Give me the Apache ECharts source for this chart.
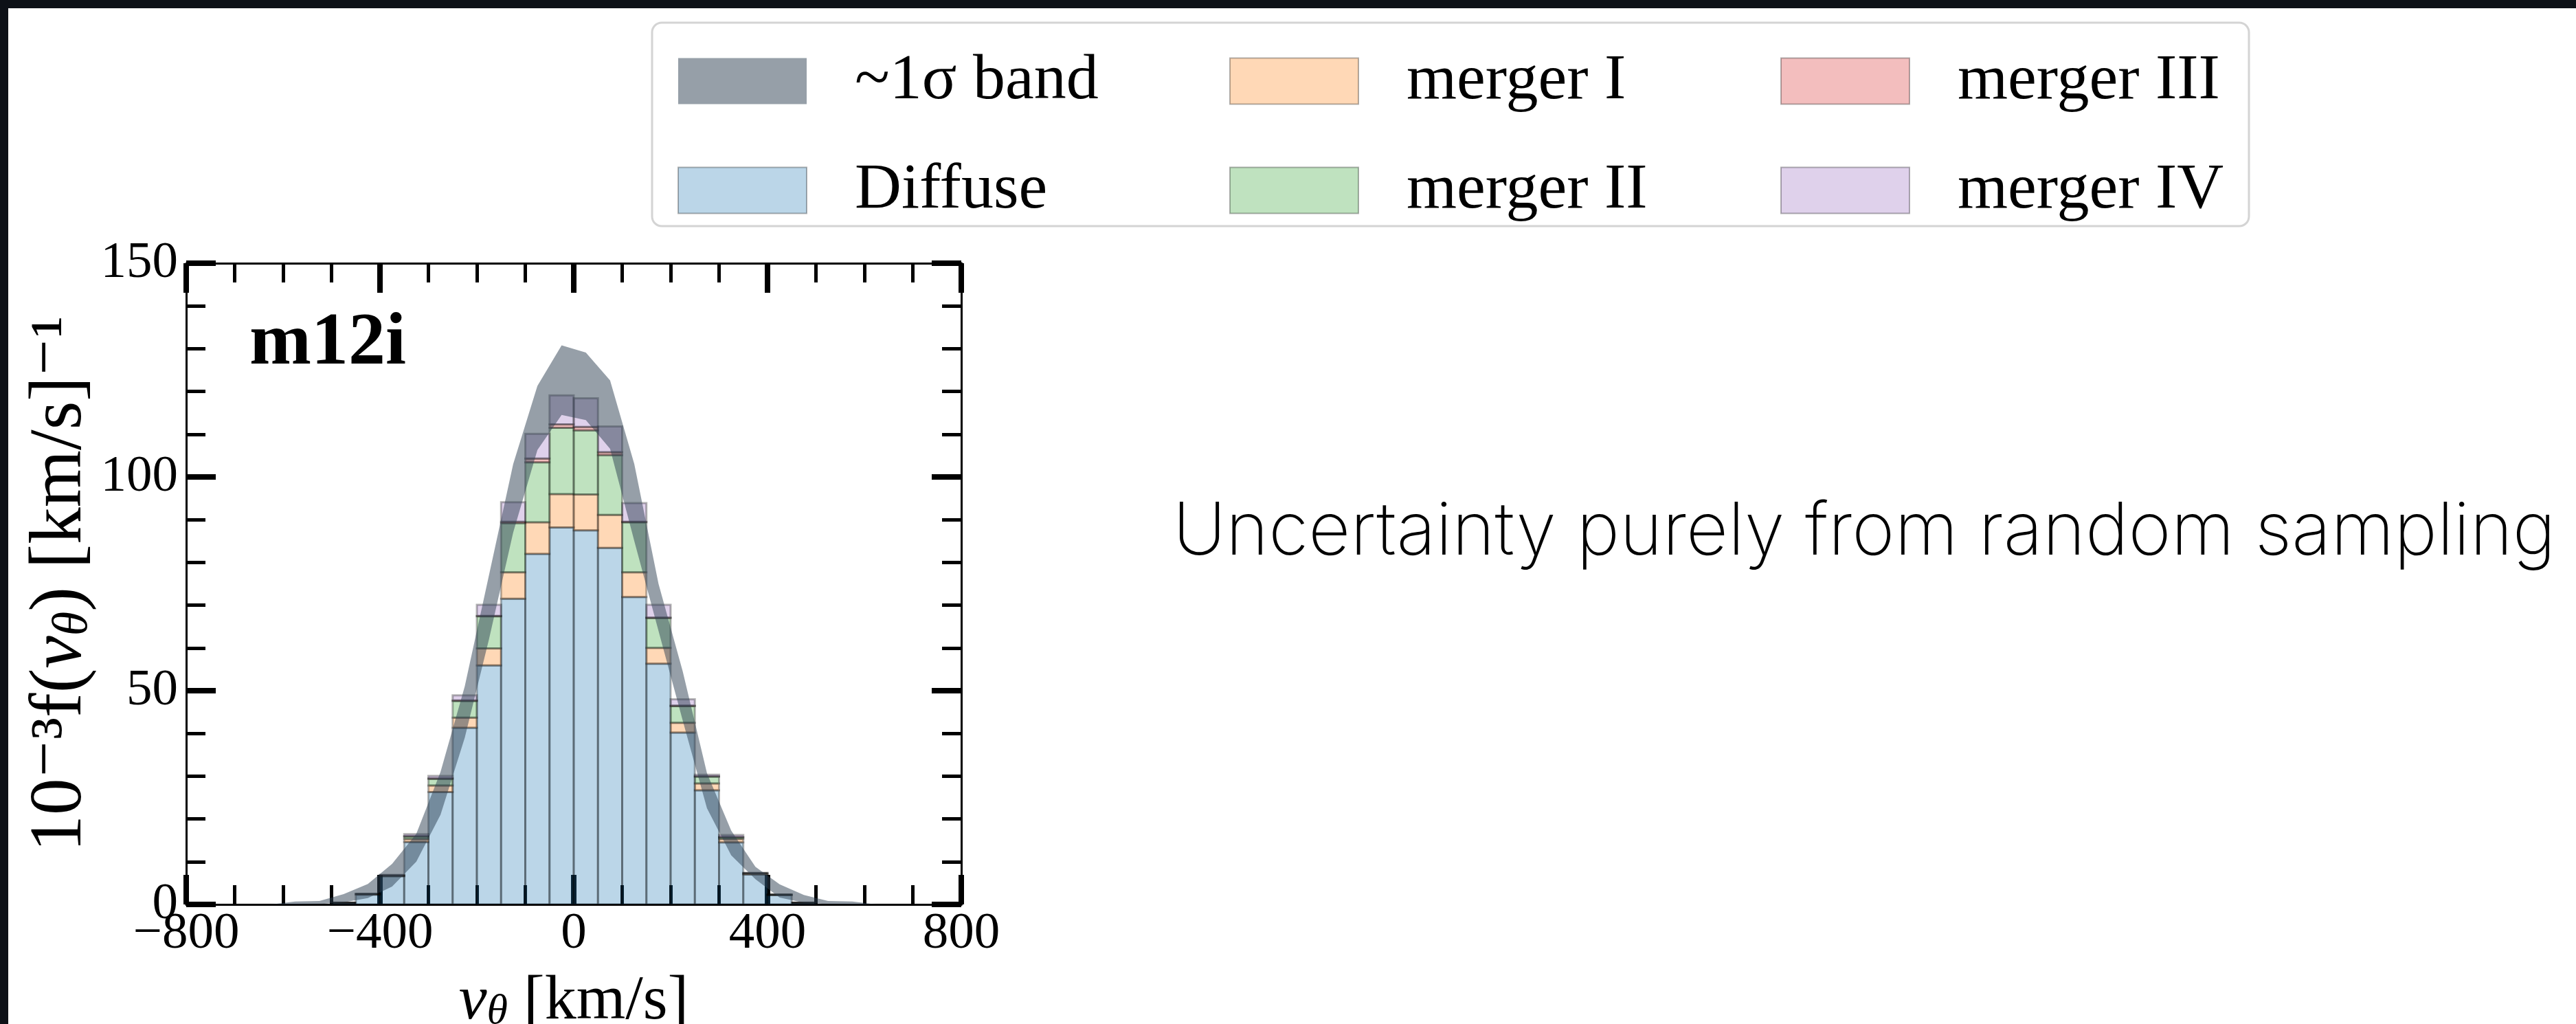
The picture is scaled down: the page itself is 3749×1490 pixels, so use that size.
<!DOCTYPE html>
<html>
<head>
<meta charset="utf-8">
<title>m12i v_theta distribution</title>
<script src="https://cdn.jsdelivr.net/npm/echarts@6/dist/echarts.min.js"></script>
<style>
  html, body { margin: 0; padding: 0; background: #ffffff; overflow: hidden; }
  #chart { width: 3749px; height: 1490px; }
</style>
</head>
<body>
<div id="chart"></div>
<script>
// Histogram bin edges (km/s), 50 km/s wide
const binEdges = [-500, -450, -400, -350, -300, -250, -200, -150, -100, -50, 0,
                  50, 100, 150, 200, 250, 300, 350, 400, 450, 500];

// Per-bin contribution of each component, 10^-3 f(v_theta) [km/s]^-1
const diffuse    = [0.4, 2.3, 6.6, 14.6, 26.3, 41.3, 55.9, 71.5, 82.0, 88.2,
                    87.5, 83.4, 71.9, 56.3, 40.2, 26.7, 14.5, 7.0, 2.2, 0.4];
const mergerI    = [0, 0.1, 0.1, 0.7, 1.5, 2.4, 4.0, 6.2, 7.4, 7.8,
                    8.4, 7.7, 5.8, 3.7, 2.3, 1.6, 0.8, 0.2, 0.05, 0];
const mergerII   = [0, 0.05, 0.1, 0.6, 1.6, 3.9, 7.5, 11.5, 14.0, 15.5,
                    15.0, 14.0, 11.7, 7.0, 3.9, 1.6, 0.4, 0.1, 0.03, 0];
const mergerIII  = [0, 0, 0, 0.02, 0.05, 0.1, 0.1, 0.3, 0.9, 0.8,
                    0.8, 0.7, 0.1, 0.1, 0.1, 0.05, 0.02, 0, 0, 0];
const mergerIV   = [0, 0.05, 0.1, 0.5, 0.6, 1.2, 2.6, 4.6, 5.8, 6.8,
                    6.7, 6.0, 4.4, 3.0, 1.5, 0.4, 0.5, 0.1, 0.02, 0];

// ~1 sigma band of the total, sampled at bin centres
const bandX     = [-625, -575, -525, -475, -425, -375, -325, -275, -225, -175, -125, -75, -25,
                   25, 75, 125, 175, 225, 275, 325, 375, 425, 475, 525, 575, 625];
const bandUpper = [0, 0.7, 0.8, 2.4, 4.8, 9.5, 16.5, 31, 51, 77, 103, 121.3, 130.8,
                   129.1, 122.6, 103, 75, 54.5, 30.7, 17.3, 8.8, 4.7, 2.2, 0.8, 0.7, 0];
const bandLower = [0, 0, 0.1, 0.5, 1.5, 4.2, 10, 21, 39, 62, 87, 106.3, 114.5,
                   113.3, 106.6, 85, 64, 43, 22.5, 11.5, 5.9, 1.6, 0.4, 0.1, 0, 0];

// Component names and base colours (tab palette)
const componentNames  = ['Diffuse', 'merger I', 'merger II', 'merger III', 'merger IV'];
const componentValues = [diffuse, mergerI, mergerII, mergerIII, mergerIV];
const componentColors = ['rgba(31,119,180,0.3)', 'rgba(255,127,14,0.3)', 'rgba(44,160,44,0.3)',
                         'rgba(214,39,40,0.3)', 'rgba(148,103,189,0.3)'];
const bandName  = '~1σ band';
const bandColor = 'rgba(45,63,81,0.5)';
const edgeColor = 'rgba(0,0,0,0.3)';

const SERIF = '"Liberation Serif", "DejaVu Serif", serif';

// Stacked segments: [left edge, right edge, bottom, top]
const running = new Array(binEdges.length - 1).fill(0);
const barSeries = componentValues.map(function (vals, k) {
  const data = vals.map(function (v, i) {
    const bottom = running[i];
    running[i] += v;
    return [binEdges[i], binEdges[i + 1], bottom, running[i]];
  });
  return {
    type: 'custom',
    name: componentNames[k],
    xAxisIndex: 0,
    yAxisIndex: 0,
    z: 2,
    clip: true,
    itemStyle: { color: componentColors[k], borderColor: edgeColor, borderWidth: 3 },
    data: data,
    renderItem: function (params, api) {
      const tl = api.coord([api.value(0), api.value(3)]);
      const br = api.coord([api.value(1), api.value(2)]);
      return {
        type: 'rect',
        shape: { x: tl[0], y: tl[1], width: br[0] - tl[0], height: br[1] - tl[1] },
        style: { fill: componentColors[k], stroke: edgeColor, lineWidth: 3 }
      };
    }
  };
});

const bandSeries = {
  type: 'custom',
  name: bandName,
  xAxisIndex: 0,
  yAxisIndex: 0,
  z: 3,
  clip: true,
  itemStyle: { color: bandColor, borderWidth: 0 },
  data: bandX.map(function (x, i) { return [x, bandLower[i], bandUpper[i]]; }),
  renderItem: function (params, api) {
    if (params.dataIndex !== 0) { return null; }
    const pts = [];
    for (let i = 0; i < bandX.length; i++) { pts.push(api.coord([bandX[i], bandUpper[i]])); }
    for (let i = bandX.length - 1; i >= 0; i--) { pts.push(api.coord([bandX[i], bandLower[i]])); }
    return { type: 'polygon', shape: { points: pts }, style: { fill: bandColor } };
  }
};

function minusLabel(v) { return v < 0 ? '\u2212' + Math.abs(v) : String(v); }

const tickCommon = {
  axisLine: { show: true, onZero: false, lineStyle: { color: '#000', width: 3 } },
  axisTick: { show: true, inside: true, length: 43, lineStyle: { color: '#000', width: 8 } },
  minorTick: { show: true, length: 28, lineStyle: { color: '#000', width: 5 } },
  splitLine: { show: false },
  minorSplitLine: { show: false }
};

const legendCommon = {
  orient: 'vertical',
  top: 71,
  padding: 0,
  itemWidth: 187,
  itemHeight: 67,
  itemGap: 65,
  icon: 'rect',
  selectedMode: false,
  z: 10,
  textStyle: { fontFamily: SERIF, fontSize: 94, lineHeight: 67, color: '#000', padding: [0, 0, 0, 65] }
};

const option = {
  animation: false,
  backgroundColor: '#ffffff',
  grid: { left: 271, top: 383, width: 1128, height: 933, containLabel: false, outerBoundsMode: 'none' },
  xAxis: [
    Object.assign({}, tickCommon, {
      type: 'value', position: 'bottom', min: -800, max: 800, interval: 400,
      minorTick: Object.assign({}, tickCommon.minorTick, { splitNumber: 4 }),
      axisLabel: { fontFamily: SERIF, fontSize: 75, color: '#000', margin: 6, formatter: minusLabel },
      name: '{i|v}{s|θ}{r| [km/s]}',
      nameLocation: 'middle',
      nameGap: 58,
      nameTextStyle: {
        color: '#000', fontFamily: SERIF, fontSize: 92,
        rich: {
          i: { fontFamily: SERIF, fontStyle: 'italic', fontSize: 92, color: '#000', verticalAlign: 'top', lineHeight: 92 },
          s: { fontFamily: SERIF, fontStyle: 'italic', fontSize: 62, color: '#000', verticalAlign: 'bottom', lineHeight: 62, padding: [40, 0, 0, 0] },
          r: { fontFamily: SERIF, fontSize: 92, color: '#000', verticalAlign: 'top', lineHeight: 92 }
        }
      }
    }),
    Object.assign({}, tickCommon, {
      type: 'value', position: 'top', min: -800, max: 800, interval: 400,
      minorTick: Object.assign({}, tickCommon.minorTick, { splitNumber: 4 }),
      axisLabel: { show: false }
    })
  ],
  yAxis: [
    Object.assign({}, tickCommon, {
      type: 'value', position: 'left', min: 0, max: 150, interval: 50,
      minorTick: Object.assign({}, tickCommon.minorTick, { splitNumber: 5 }),
      axisLabel: { fontFamily: SERIF, fontSize: 75, color: '#000', margin: 12 },
      name: '{r|10⁻³f(}{i|v}{s|θ}{r|) [km/s]⁻¹}',
      nameLocation: 'middle',
      nameRotate: 90,
      nameGap: 108,
      nameTextStyle: {
        color: '#000', fontFamily: SERIF, fontSize: 107,
        rich: {
          i: { fontFamily: SERIF, fontStyle: 'italic', fontSize: 107, color: '#000', verticalAlign: 'top', lineHeight: 107 },
          s: { fontFamily: SERIF, fontStyle: 'italic', fontSize: 72, color: '#000', verticalAlign: 'bottom', lineHeight: 72, padding: [47, 0, 0, 0] },
          r: { fontFamily: SERIF, fontSize: 107, color: '#000', verticalAlign: 'top', lineHeight: 107 }
        }
      }
    }),
    Object.assign({}, tickCommon, {
      type: 'value', position: 'right', min: 0, max: 150, interval: 50,
      minorTick: Object.assign({}, tickCommon.minorTick, { splitNumber: 5 }),
      axisLabel: { show: false }
    })
  ],
  legend: [
    Object.assign({}, legendCommon, { left: 986, data: [bandName, 'Diffuse'] }),
    Object.assign({}, legendCommon, { left: 1789, data: ['merger I', 'merger II'] }),
    Object.assign({}, legendCommon, { left: 2591, data: ['merger III', 'merger IV'] })
  ],
  graphic: [
    { type: 'rect', z: 0, shape: { x: 0, y: 0, width: 3749, height: 12 }, style: { fill: '#0d1117' } },
    { type: 'rect', z: 0, shape: { x: 0, y: 0, width: 12, height: 1490 }, style: { fill: '#0d1117' } },
    { type: 'rect', z: 1, shape: { x: 949, y: 33, width: 2324, height: 296, r: 14 },
      style: { fill: '#ffffff', stroke: '#d4d4d4', lineWidth: 3 } },
    { type: 'text', z: 20, x: 363, y: 501,
      style: { text: 'm12i', font: 'bold 108px "Liberation Serif"', fill: '#000', align: 'left', verticalAlign: 'middle' } },
    { type: 'text', z: 20, x: 1707, y: 775,
      style: { text: 'Uncertainty purely from random sampling', font: '200 106px Inter, Lato, sans-serif',
               fill: '#000', align: 'left', verticalAlign: 'middle' } }
  ],
  series: barSeries.concat([bandSeries])
};

const chart = echarts.init(document.getElementById('chart'), null, { renderer: 'canvas' });
chart.setOption(option);
</script>
</body>
</html>
